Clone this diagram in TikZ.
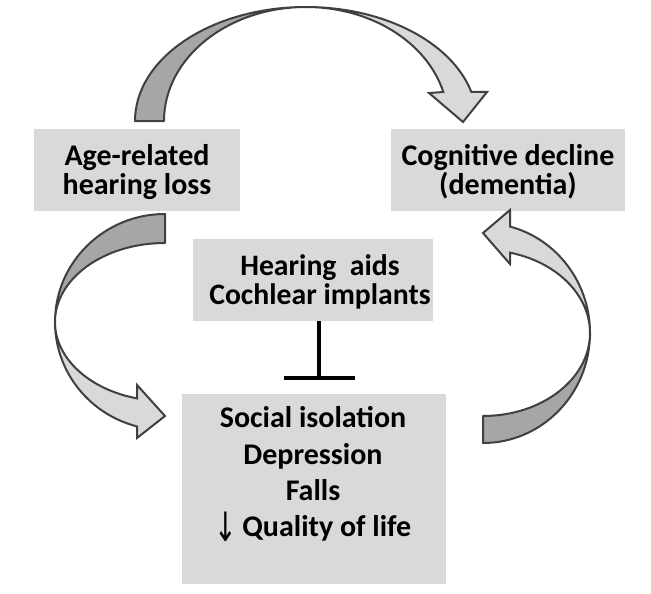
\documentclass[tikz,border=0pt]{standalone}
\usepackage{fontspec}
\setmainfont{Carlito}
\newfontfamily\arrowfont{DejaVu Sans}
\definecolor{boxgray}{HTML}{D9D9D9}
\definecolor{darkarrow}{HTML}{A6A6A6}
\definecolor{lightarrow}{HTML}{D9D9D9}
\definecolor{edgegray}{HTML}{404040}
\begin{document}
\begin{tikzpicture}[x=1pt,y=-1pt,
  boxnode/.style={fill=boxgray, draw=none, inner sep=0pt},
  txt/.style={font=\bfseries\fontsize{30}{29}\selectfont, align=center, inner sep=0pt},
  backface/.style={fill=darkarrow, draw=edgegray, line width=2pt, line join=round},
  frontface/.style={fill=lightarrow, draw=edgegray, line width=2pt, line join=miter},
  tbar/.style={line width=4pt, black}]
\useasboundingbox (0,0) rectangle (651,594);

% boxes
\node[boxnode, minimum width=206pt, minimum height=82pt] (age) at (137,170) {};
\node[boxnode, minimum width=234pt, minimum height=82pt] (cog) at (508,170) {};
\node[boxnode, minimum width=240pt, minimum height=82pt] (hear) at (313,280) {};
\node[boxnode, minimum width=264pt, minimum height=190pt] (soc) at (314,489) {};

% texts
\node[txt] (agetext) at (137,172.2) {Age-related\\hearing loss};
\node[txt] (cogtext) at (508,172.2) {Cognitive decline\\(dementia)};
\node[txt, font=\bfseries\fontsize{29.7}{29.5}\selectfont] (heartext) at (320,282) {Hearing~ aids\\Cochlear implants};
\node[txt, font=\bfseries\fontsize{30}{36.3}\selectfont] (soctext) at (313,474.2) {Social isolation\\Depression\\Falls\\\raisebox{-5pt}{\scalebox{0.9}[1.35]{\arrowfont\mdseries ↓}}\,Quality of life};

% top curved arrow
\draw[backface] (135,121) arc[start angle=180, end angle=270, x radius=171, y radius=114]
  arc[start angle=270, end angle=180, x radius=142, y radius=114] -- cycle;
\draw[frontface] (306,7) arc[start angle=270, end angle=345.26, x radius=171, y radius=114]
  -- (487,92) -- (463,122) -- (429,93) -- (443.3,92)
  arc[start angle=345.26, end angle=270, x radius=142, y radius=114] -- cycle;

% left curved arrow
\draw[backface] (165,214) arc[start angle=270, end angle=180, x radius=110, y radius=108]
  arc[start angle=180, end angle=270, x radius=110, y radius=79] -- cycle;
\draw[frontface] (55,322) arc[start angle=180, end angle=104.74, x radius=110, y radius=108]
  -- (137,438) -- (165,416) -- (137,385) -- (137,398.4)
  arc[start angle=104.74, end angle=180, x radius=110, y radius=79] -- cycle;

% right curved arrow
\draw[backface] (483,443) arc[start angle=90, end angle=0, x radius=107, y radius=110]
  arc[start angle=0, end angle=90, x radius=107, y radius=83] -- cycle;
\draw[frontface] (590,333) arc[start angle=0, end angle=-75.26, x radius=107, y radius=110]
  -- (510,210) -- (483,233) -- (510,264) -- (510.2,252.7)
  arc[start angle=-75.26, end angle=0, x radius=107, y radius=83] -- cycle;

% inhibition bar
\coordinate (tfoot) at (319,378);
\draw[tbar] (hear.south -| tfoot) -- (tfoot);
\draw[tbar] ([xshift=-35pt]tfoot) -- ([xshift=36pt]tfoot);
\end{tikzpicture}
\end{document}
